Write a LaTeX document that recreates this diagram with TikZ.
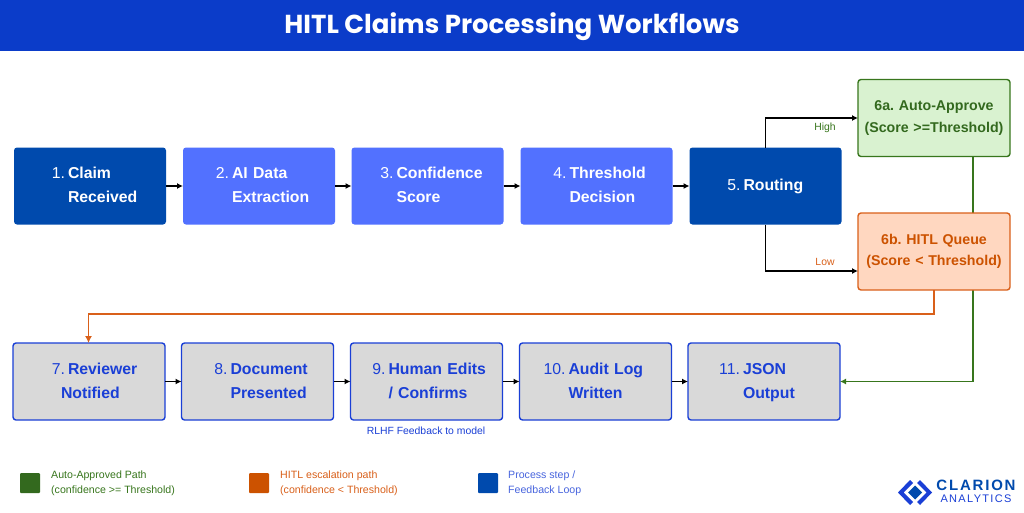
\documentclass[tikz,border=0pt]{standalone}
\usepackage{fontspec}
\setmainfont{Liberation Sans}
\newfontfamily\titlefont{Poppins}
\newfontfamily\logofont[LetterSpace=12]{Liberation Sans}
\usetikzlibrary{arrows.meta}
\frenchspacing

\definecolor{bardark}{HTML}{0B3CC9}
\definecolor{stepdark}{HTML}{004AAD}
\definecolor{steplight}{HTML}{5271FF}
\definecolor{stepgray}{HTML}{D9D9D9}
\definecolor{stepedge}{HTML}{1A3FD6}
\definecolor{okfill}{HTML}{D9F2D0}
\definecolor{okedge}{HTML}{38761D}
\definecolor{okdark}{HTML}{33691E}
\definecolor{hitlfill}{HTML}{FFD7C0}
\definecolor{hitledge}{HTML}{D9601A}
\definecolor{hitldark}{HTML}{CC5200}

\tikzset{
  stepbase/.style={rectangle, rounded corners=3pt, inner sep=0pt, outer sep=0pt,
    minimum height=77pt, text width=152pt, align=left,
    font=\fontsize{15.8}{24}\selectfont},
  stepdarkbox/.style={stepbase, fill=stepdark, text=white},
  steplightbox/.style={stepbase, fill=steplight, text=white},
  stepgraybox/.style={stepbase, fill=stepgray, draw=stepedge, line width=1.4pt, text=stepedge},
  okbox/.style={stepbase, fill=okfill, draw=okedge, line width=1.4pt, text=okdark, align=center,
    font=\fontsize{14.2}{21.5}\selectfont},
  hitlbox/.style={stepbase, fill=hitlfill, draw=hitledge, line width=1.4pt, text=hitldark, align=center,
    font=\fontsize{14.2}{21.5}\selectfont},
  flow/.style={draw=black, line width=1.6pt, -{Latex[length=6pt,width=6pt]}},
  okflow/.style={draw=okedge, line width=1.5pt, -{Latex[length=6pt,width=6pt]}},
  hitlflow/.style={draw=hitledge, line width=1.3pt, -{Latex[length=7pt,width=7pt]}},
  legendkey/.style={rectangle, rounded corners=1pt, minimum size=20pt, inner sep=0pt},
  legendtext/.style={align=left, anchor=west, inner sep=0pt, font=\fontsize{10.6}{15}\selectfont},
  flowlabel/.style={inner sep=0pt, font=\fontsize{10.4}{12}\selectfont},
}

% offset of the bold text, number, first line, offset of second line, second line
\newcommand{\steptext}[5]{\hspace*{#1pt}\makebox[0pt][r]{#2\hspace{3pt}}\textbf{#3}\strut\\\hspace*{#4pt}\textbf{#5}\strut}

\begin{document}
\begin{tikzpicture}[x=1pt,y=-1pt]
  \useasboundingbox (0,0) rectangle (1024,512);
  \fill [white] (0,0) rectangle (1024,512);

  % title bar
  \fill [bardark] (0,0) rectangle (1024,51);
  \node (title) at (512,27) [text=white, font=\titlefont\fontsize{26}{30}\selectfont\bfseries] {HITL Claims Processing Workflows};

  % first row
  \node (claim) at (90,186) [stepdarkbox] {\steptext{54}{1.}{Claim}{54}{Received}};
  \node (extract) at (259,186) [steplightbox] {\steptext{49}{2.}{AI Data}{49}{Extraction}};
  \node (score) at (427.5,186) [steplightbox] {\steptext{45}{3.}{Confidence}{45}{Score}};
  \node (decide) at (596.5,186) [steplightbox] {\steptext{49}{4.}{Threshold}{49}{Decision}};
  \node (routing) at (765.5,186) [stepdarkbox] {\hspace*{54pt}\makebox[0pt][r]{5.\hspace{3pt}}\textbf{Routing}};
  \node (approve) at (934,118) [okbox] {\textbf{6a. Auto-Approve}\\\textbf{(Score >=Threshold)}};

  % second row
  \node (notified) at (89,381.5) [stepgraybox] {\steptext{55}{7.}{Reviewer}{48}{Notified}};
  \node (document) at (257.5,381.5) [stepgraybox] {\steptext{49}{8.}{Document}{49}{Presented}};
  \node (edits) at (426.5,381.5) [stepgraybox] {\steptext{38}{9.}{Human Edits}{38}{/ Confirms}};
  \node (audit) at (595.5,381.5) [stepgraybox] {\steptext{49}{10.}{Audit Log}{49}{Written}};
  \node (output) at (764,381.5) [stepgraybox] {\steptext{55}{11.}{JSON}{55}{Output}};

  \coordinate (okbend) at (973,381.5);
  \draw [okflow] (approve.south -| okbend) -- (okbend) -- (output.east);

  \node (queue) at (934,251.5) [hitlbox] {\textbf{6b. HITL Queue}\\\textbf{(Score < Threshold)}};

  % connectors
  \draw [flow] (claim) -- (extract);
  \draw [flow] (extract) -- (score);
  \draw [flow] (score) -- (decide);
  \draw [flow] (decide) -- (routing);
  \draw [flow] (notified) -- (document);
  \draw [flow] (document) -- (edits);
  \draw [flow] (edits) -- (audit);
  \draw [flow] (audit) -- (output);

  \coordinate (lowend) at (858,271);
  \draw [flow] (routing.north) |- (approve.west);
  \draw [flow] (routing.south) |- (lowend);

  \coordinate (hitldrop) at (934,314);
  \coordinate (hitlcorner) at (88.5,314);
  \draw [hitlflow] (queue.south -| hitldrop) -- (hitldrop) -- (hitlcorner) -- (notified.north -| hitlcorner);

  \node (highlabel) at (825,128) [flowlabel, text=okedge] {High};
  \node (lowlabel) at (825,262) [flowlabel, text=hitledge] {Low};
  \node (rlhf) at (426,431) [flowlabel, text=stepedge] {RLHF Feedback to model};

  % legend
  \node (okkey) at (30,483) [legendkey, fill=okdark] {};
  \node (oktext) at (51,483) [legendtext, text=okedge] {Auto-Approved Path\\(confidence >= Threshold)};
  \node (hitlkey) at (259,483) [legendkey, fill=hitldark] {};
  \node (hitltext) at (280,483) [legendtext, text=hitledge] {HITL escalation path\\(confidence < Threshold)};
  \node (stepkey) at (488,483) [legendkey, fill=stepdark] {};
  \node (steptext) at (508,483) [legendtext, text=stepedge!80!white] {Process step /\\Feedback Loop};

  % logo
  \fill [stepdark] (915,485.5) -- (922,492.5) -- (915,499.5) -- (908,492.5) -- cycle;
  \fill [stepedge] (910,480) -- (913,483) -- (903.5,492.5) -- (913,502) -- (910,505) -- (898,492.5) -- cycle;
  \fill [stepedge] (920,480) -- (917,483) -- (926.5,492.5) -- (917,502) -- (920,505) -- (932,492.5) -- cycle;
  \node (clarion) at (976,485.5) [inner sep=0pt, text=stepdark, font=\logofont\fontsize{15}{16}\selectfont\bfseries] {CLARION};
  \node (analytics) at (976,498.5) [inner sep=0pt, text=stepedge, font=\logofont\fontsize{11}{12}\selectfont] {ANALYTICS};
\end{tikzpicture}
\end{document}
